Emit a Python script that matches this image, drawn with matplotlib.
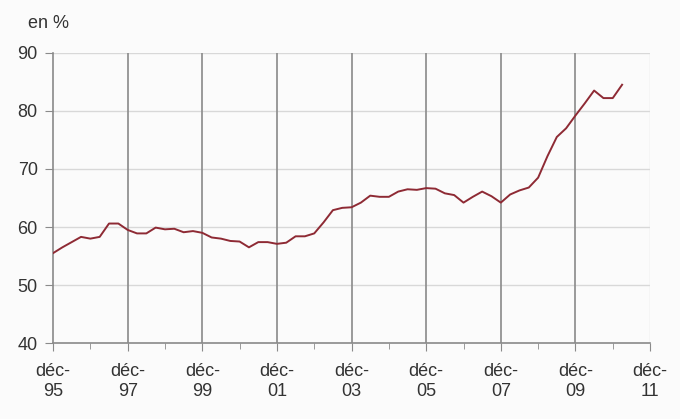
import matplotlib.pyplot as plt
import numpy as np

plt.rcParams['font.family'] = ['Liberation Sans', 'DejaVu Sans']

# Quarterly values, from déc-95 (Q4 1995) to mars-11
values = [55.5, 56.5, 57.4, 58.3, 58.0, 58.3, 60.6, 60.6, 59.5, 58.9,
          58.9, 59.9, 59.6, 59.7, 59.1, 59.3, 59.0, 58.2, 58.0, 57.6,
          57.5, 56.5, 57.4, 57.4, 57.1, 57.3, 58.4, 58.4, 58.9, 60.8,
          62.9, 63.3, 63.4, 64.2, 65.4, 65.2, 65.2, 66.1, 66.5, 66.4,
          66.7, 66.6, 65.8, 65.5, 64.2, 65.2, 66.1, 65.3, 64.2, 65.6,
          66.3, 66.8, 68.5, 72.2, 75.5, 77.0, 79.2, 81.3, 83.5, 82.2,
          82.2, 84.5]
tick_labels = ["déc-\n95", "déc-\n97", "déc-\n99", "déc-\n01", "déc-\n03",
               "déc-\n05", "déc-\n07", "déc-\n09", "déc-\n11"]
y_ticks = [40, 50, 60, 70, 80, 90]

x = np.arange(len(values))

fig = plt.figure(figsize=(6.8, 4.19), dpi=100)
fig.patch.set_facecolor('#fbfbfb')
ax = fig.add_axes([0.078, 0.181, 0.878, 0.693])
ax.set_facecolor('#fbfbfb')

# grid: light horizontal, dark vertical
for yv in y_ticks[1:]:
    ax.axhline(yv, color='#d8d8d8', lw=1.0, zorder=1)
major = np.arange(0, 8 * len(tick_labels), 8)
for xv in major[1:-1]:
    ax.axvline(xv, color='#8a8a8a', lw=1.2, zorder=1)
ax.axvline(major[-1], color='#e0e0e0', lw=1.0, zorder=1)

ax.plot(x, values, color='#8e2a34', lw=1.4, zorder=3)

ax.set_xlim(0, major[-1])
ax.set_ylim(40, 90)
ax.set_xticks(major)
ax.set_xticklabels(tick_labels, fontsize=13, color='#333333', linespacing=1.25)
ax.set_xticks(np.arange(4, major[-1], 8), minor=True)
ax.set_yticks(y_ticks)
ax.set_yticklabels([str(v) for v in y_ticks], fontsize=13, color='#333333')

ax.tick_params(axis='x', which='major', length=6, color='#8a8a8a', pad=8)
ax.tick_params(axis='x', which='minor', length=4, color='#8a8a8a')
ax.tick_params(axis='y', length=6, color='#8a8a8a', pad=5)

for side in ['top', 'right']:
    ax.spines[side].set_visible(False)
ax.spines['left'].set_color('#8a8a8a')
ax.spines['left'].set_linewidth(1.2)
ax.spines['bottom'].set_color('#8a8a8a')
ax.spines['bottom'].set_linewidth(1.2)

fig.text(0.041, 0.945, "en %", fontsize=13, color='#333333', va='center')

plt.savefig("out.png", dpi=100, facecolor=fig.get_facecolor())
